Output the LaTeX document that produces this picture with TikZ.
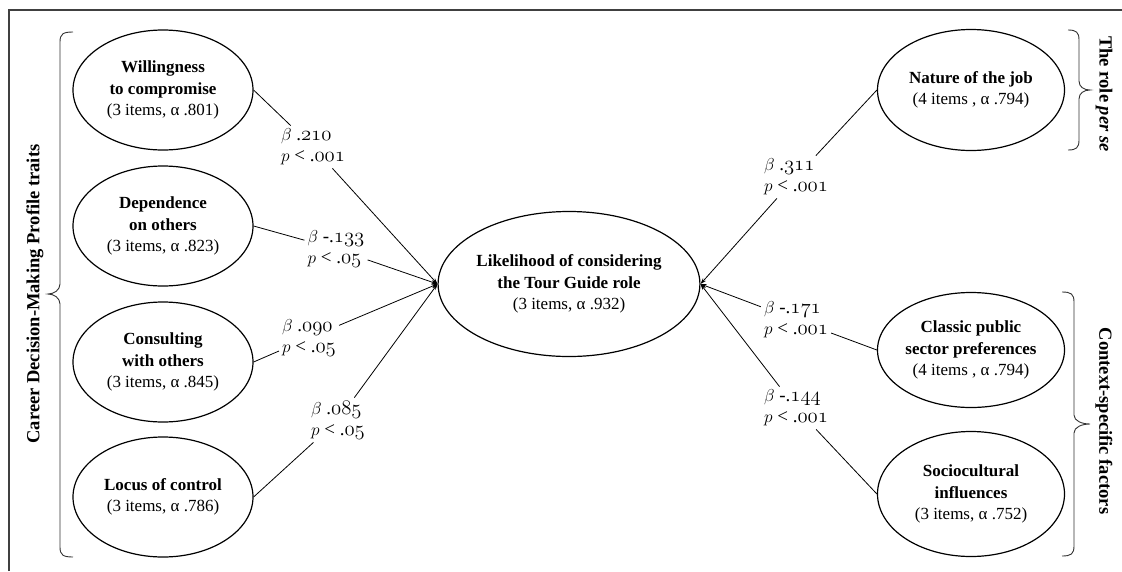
\documentclass[tikz,border=0pt]{standalone}
\usepackage{fontspec}
\setmainfont{Liberation Serif}
\usetikzlibrary{shapes.geometric,arrows.meta}
\newcommand\osnum[1]{{\fontsize{21}{21}\usefont{OML}{cmm}{m}{it}#1}}
\begin{document}
\begin{tikzpicture}[x=1pt,y=-1pt,
  latent/.style={draw, ellipse, line width=1.2pt, inner sep=0pt,
    minimum width=180pt, minimum height=120pt, align=center,
    font=\fontsize{17}{21.5}\selectfont},
  coef/.style={align=left, inner sep=3pt, font=\fontsize{19}{21}\selectfont},
  link/.style={line width=0.8pt},
  arr/.style={line width=0.8pt, -{Stealth[length=6pt,width=4pt]}},
  brc/.style={line width=0.9pt, color=black!80},
  grp/.style={font=\fontsize{18.5}{22}\selectfont\bfseries},
  frame/.style={line width=1.6pt, color=black!75}
]
\useasboundingbox (0,0) rectangle (1122,571);
\fill[white] (0,0) rectangle (1122,571);
\draw[frame] (9,571) -- (9,10) -- (1122,10);

% left column
\node[latent] (W) at (163,90) {\textbf{Willingness}\\\textbf{to compromise}\\(3 items, α .801)};
\node[latent] (D) at (163,226) {\textbf{Dependence}\\\textbf{on others}\\(3 items, α .823)};
\node[latent] (Co) at (163,362) {\textbf{Consulting}\\\textbf{with others}\\(3 items, α .845)};
\node[latent] (L) at (163,497) {\textbf{Locus of control}\\(3 items, α .786)};

% centre
\node[latent, minimum width=248pt, minimum height=145pt] (C) at (569,284)
  {\textbf{Likelihood of considering}\\\textbf{the Tour Guide role}\\(3 items, α .932)};

% right column
\node[latent, minimum width=187pt, minimum height=121pt] (N) at (971,90)
  {\textbf{Nature of the job}\\(4 items , α .794)};
\node[latent, minimum width=187pt, minimum height=115pt] (Cl) at (971,350)
  {\textbf{Classic public}\\\textbf{sector preferences}\\(4 items , α .794)};
\node[latent, minimum width=187pt, minimum height=125pt] (S) at (971,494)
  {\textbf{Sociocultural}\\\textbf{influences}\\(3 items, α .752)};

% coefficient labels
\node[coef] (lW) at (313,147) {$\beta$ .\osnum{210}\\$p$ < .\osnum{001}};
\node[coef] (lD) at (336,249) {$\beta$ -.\osnum{133}\\$p$ < .\osnum{05}};
\node[coef] (lCo) at (309,338) {$\beta$ .\osnum{090}\\$p$ < .\osnum{05}};
\node[coef] (lL) at (338,420) {$\beta$ .\osnum{085}\\$p$ < .\osnum{05}};
\node[coef] (lN) at (796,177) {$\beta$ .\osnum{311}\\$p$ < .\osnum{001}};
\node[coef] (lCl) at (796,320) {$\beta$ -.\osnum{171}\\$p$ < .\osnum{001}};
\node[coef] (lS) at (796,408) {$\beta$ -.\osnum{144}\\$p$ < .\osnum{001}};

% connectors
\draw[link] (W.east) -- (lW);  \draw[arr] (lW) -- (C.west);
\draw[link] (D.east) -- (lD);  \draw[arr] (lD) -- (C.west);
\draw[link] (Co.east) -- (lCo); \draw[arr] (lCo) -- (C.west);
\draw[link] (L.east) -- (lL);  \draw[arr] (lL) -- (C.west);
\draw[link] (N.west) -- (lN);  \draw[arr] (lN) -- (C.east);
\draw[link] (Cl.west) -- (lCl); \draw[arr] (lCl) -- (C.east);
\draw[link] (S.west) -- (lS);  \draw[arr] (lS) -- (C.east);

% braces
\draw[brc] (73,32) .. controls (63,32) and (60,34) .. (60,42) -- (60,284)
  .. controls (60,290) and (54,294) .. (48,294)
  .. controls (54,294) and (60,298) .. (60,304) -- (60,547)
  .. controls (60,555) and (63,557) .. (73,557);
\draw[brc] (1068,30) .. controls (1076,30) and (1079,32) .. (1079,40) -- (1079,81)
  .. controls (1079,87) and (1084,90) .. (1090,90)
  .. controls (1084,90) and (1079,93) .. (1079,99) -- (1079,140)
  .. controls (1079,148) and (1076,150) .. (1068,150);
\draw[brc] (1062,292) .. controls (1071,292) and (1074,294) .. (1074,302) -- (1074,415)
  .. controls (1074,421) and (1082,424) .. (1090,424)
  .. controls (1082,424) and (1074,427) .. (1074,433) -- (1074,546)
  .. controls (1074,554) and (1071,556) .. (1062,556);

% group labels
\node[grp, rotate=90] (gL) at (35,294) {Career Decision-Making Profile traits};
\node[grp, rotate=-90] (gN) at (1104,94) {The role \textit{per se}};
\node[grp, rotate=-90] (gC) at (1104,421) {Context-specific factors};
\end{tikzpicture}
\end{document}
